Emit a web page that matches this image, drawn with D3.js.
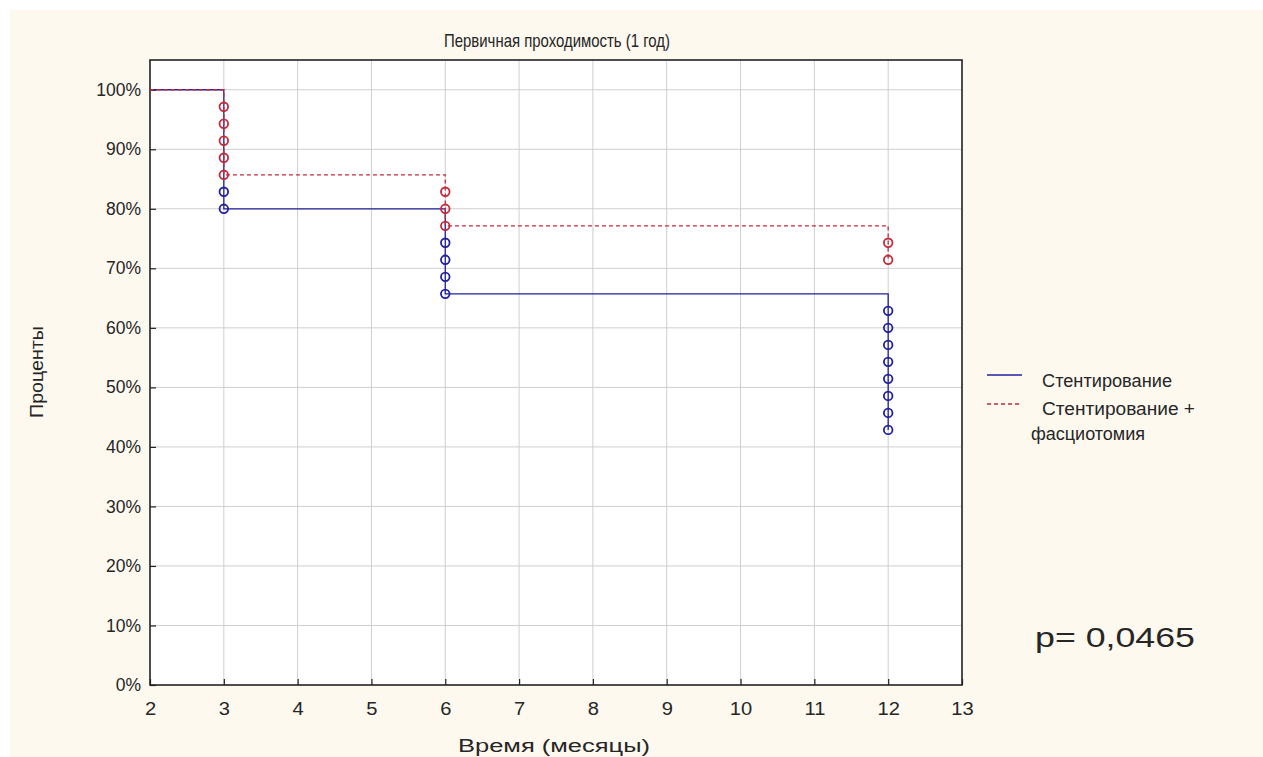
<!DOCTYPE html>
<html><head><meta charset="utf-8">
<script src="https://cdn.jsdelivr.net/npm/d3@7"></script>
<style>body{margin:0;background:#fff;}svg{display:block;}</style>
</head><body>
<svg id="c" width="1263" height="757"></svg>
<script>
// ---- data ----
const xTicks = [2,3,4,5,6,7,8,9,10,11,12,13];
const yTicks = [0,10,20,30,40,50,60,70,80,90,100];
const seriesNames = ["Стентирование", "Стентирование +\nфасциотомия"];
// step points (time, percent) – Kaplan–Meier curves
const stentTimes = [2, 3, 6, 12];
const stentValues = [100, 80, 65.71, 42.86];
const fascTimes = [2, 3, 6, 12];
const fascValues = [100, 85.71, 77.14, 71.43];
// censored observations
const stentCensTimes = [3,3, 6,6,6,6, 12,12,12,12,12,12,12,12];
const stentCensValues = [82.86,80, 74.29,71.43,68.57,65.71, 62.86,60,57.14,54.29,51.43,48.57,45.71,42.86];
const fascCensTimes = [3,3,3,3,3, 6,6,6, 12,12];
const fascCensValues = [97.14,94.29,91.43,88.57,85.71, 82.86,80,77.14, 74.29,71.43];
const title = "Первичная проходимость (1 год)";
const xLabel = "Время (месяцы)";
const yLabel = "Проценты";
const pText = "p= 0,0465";

// ---- drawing ----
const svg = d3.select("#c");
const BLUE = "#2020a0", RED = "#c42a3a", INK = "#262626";
svg.append("rect").attr("x",10).attr("y",10).attr("width",1253).attr("height",747).attr("fill","#fdf9ef");

const x = d3.scaleLinear().domain([2,13]).range([150,962]);
const y = d3.scaleLinear().domain([0,105]).range([685,60]);

svg.append("rect").attr("x",x(2)).attr("y",y(105)).attr("width",x(13)-x(2)).attr("height",y(0)-y(105)).attr("fill","#fff");

// grid
const g = svg.append("g");
g.selectAll("line.vg").data(xTicks.slice(1,-1)).join("line")
  .attr("x1",d=>x(d)).attr("x2",d=>x(d)).attr("y1",y(0)).attr("y2",y(105))
  .attr("stroke","#cfcfcf").attr("stroke-width",1);
g.selectAll("line.hg").data(yTicks.slice(1)).join("line")
  .attr("x1",x(2)).attr("x2",x(13)).attr("y1",d=>y(d)).attr("y2",d=>y(d))
  .attr("stroke","#cfcfcf").attr("stroke-width",1);

// axes (inward ticks)
const font = "'Liberation Sans', Arial, sans-serif";
const xAxis = svg.append("g").attr("transform",`translate(0,${y(0)})`)
  .call(d3.axisBottom(x).tickValues(xTicks).tickSizeInner(-6).tickSizeOuter(0).tickPadding(18));
const yAxis = svg.append("g").attr("transform",`translate(${x(2)},0)`)
  .call(d3.axisLeft(y).tickValues(yTicks).tickFormat(d=>d+"%").tickSizeInner(-6).tickSizeOuter(0).tickPadding(9));
[xAxis,yAxis].forEach(a=>{
  a.select(".domain").remove();
  a.selectAll(".tick line").attr("stroke","#222").attr("stroke-width",1.2);
  a.selectAll(".tick text").attr("fill",INK).style("font-family",font).style("font-size","17.5px");
});
xAxis.selectAll(".tick text").each(function(){
  const w = this.getComputedTextLength();
  d3.select(this).attr("textLength", w*1.15).attr("lengthAdjust","spacingAndGlyphs");
});

// frame
svg.append("rect").attr("x",x(2)).attr("y",y(105)).attr("width",x(13)-x(2)).attr("height",y(0)-y(105))
  .attr("fill","none").attr("stroke","#222").attr("stroke-width",1.6);

// curves
const line = d3.line().x(d=>x(d[0])).y(d=>y(d[1])).curve(d3.curveStepAfter);
svg.append("path").datum(d3.zip(stentTimes, stentValues)).attr("d",line)
  .attr("fill","none").attr("stroke",BLUE).attr("stroke-width",1.3);
svg.append("path").datum(d3.zip(fascTimes, fascValues)).attr("d",line)
  .attr("fill","none").attr("stroke",RED).attr("stroke-width",1.3).attr("stroke-dasharray","4,3");

// censor markers
function marks(ts, vs, col){
  svg.append("g").selectAll("circle").data(d3.zip(ts,vs)).join("circle")
    .attr("cx",d=>x(d[0])).attr("cy",d=>y(d[1])).attr("r",4.3)
    .attr("fill","none").attr("stroke",col).attr("stroke-width",1.8);
}
marks(stentCensTimes, stentCensValues, BLUE);
marks(fascCensTimes, fascCensValues, RED);

// title & labels
function txt(xp, yp, s, size, len, anchor){
  return svg.append("text").attr("x",xp).attr("y",yp).attr("text-anchor",anchor||"start")
    .style("font-family",font).style("font-size",size+"px").attr("fill",INK)
    .attr("textLength",len).attr("lengthAdjust","spacingAndGlyphs").text(s);
}
txt(557, 47, title, 19, 226, "middle");
txt(554, 752, xLabel, 18, 192, "middle");
svg.append("text").attr("transform","translate(43,372) rotate(-90)").attr("text-anchor","middle")
  .style("font-family",font).style("font-size","18.5px").attr("fill",INK)
  .attr("textLength",92).attr("lengthAdjust","spacingAndGlyphs").text(yLabel);

// legend
const lg = svg.append("g");
lg.append("line").attr("x1",987).attr("x2",1022).attr("y1",375).attr("y2",375).attr("stroke",BLUE).attr("stroke-width",1.3);
lg.append("line").attr("x1",987).attr("x2",1022).attr("y1",404).attr("y2",404).attr("stroke",RED).attr("stroke-width",1.3).attr("stroke-dasharray","4,3");
const parts = seriesNames[1].split("\n");
txt(1042, 387, seriesNames[0], 17.5, 130);
txt(1042, 415, parts[0], 17.5, 153);
txt(1031, 440, parts[1], 17.5, 114);

txt(1035, 647, pText, 27, 160);
</script>
</body></html>
